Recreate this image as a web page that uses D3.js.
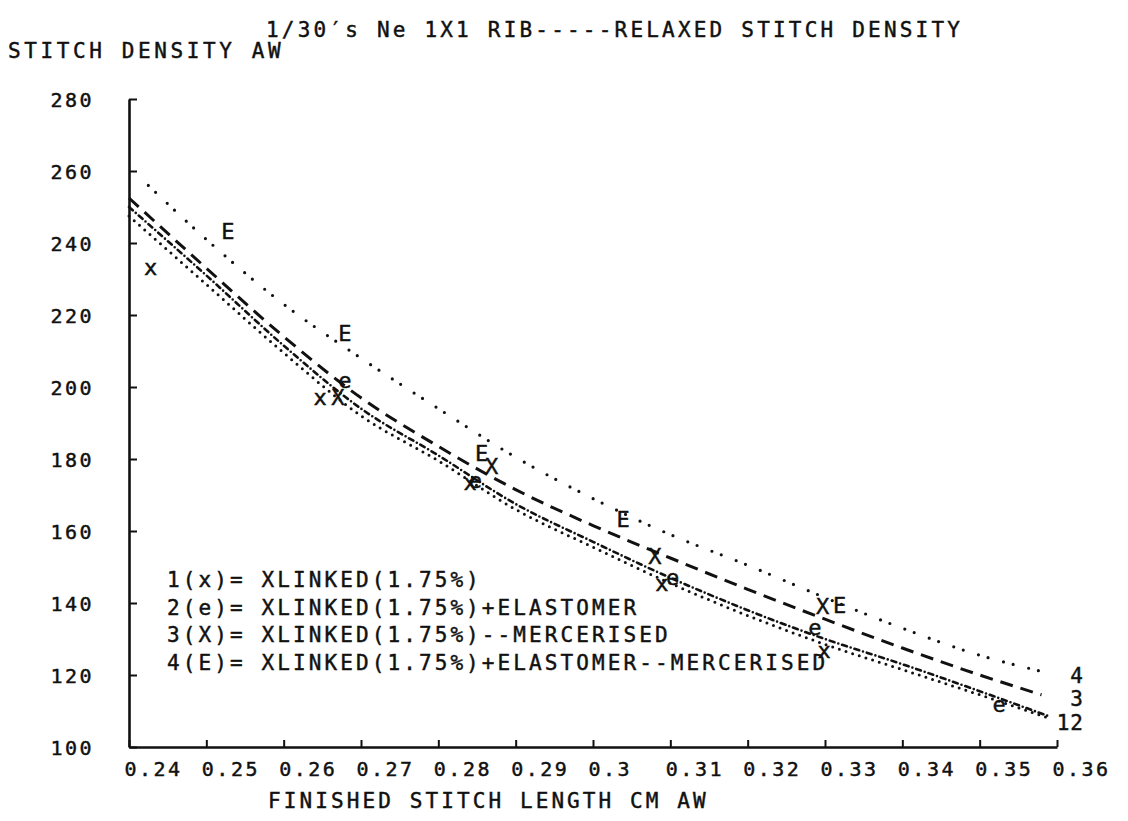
<!DOCTYPE html>
<html>
<head>
<meta charset="utf-8">
<script src="https://cdn.jsdelivr.net/npm/d3@7"></script>
<style>
  html, body { margin: 0; padding: 0; background: #fff; }
  svg text { font-family: "DejaVu Sans Mono", "Liberation Mono", monospace; fill: #111;
             stroke: #111; stroke-width: 0.45px; }
</style>
</head>
<body>
<svg id="chart" width="1128" height="821"></svg>
<script>
// Axis ticks
const xTicks = [0.24, 0.25, 0.26, 0.27, 0.28, 0.29, 0.30, 0.31, 0.32, 0.33, 0.34, 0.35, 0.36];
const xTickLabels = ["0.24", "0.25", "0.26", "0.27", "0.28", "0.29", "0.3", "0.31", "0.32", "0.33", "0.34", "0.35", "0.36"];
const yTicks = [100, 120, 140, 160, 180, 200, 220, 240, 260, 280];

// Fitted curves: stitch length (cm) and relaxed stitch density
const fitLength12 = [0.24, 0.25, 0.26, 0.27, 0.28, 0.29, 0.30, 0.31, 0.32, 0.33, 0.34, 0.35, 0.359];
const fitXlinked = [247.5, 228.5, 209.5, 192, 179.5, 166, 155.5, 145.5, 136.5, 128.5, 121.5, 114.5, 108];
const fitElastomer = [250, 231, 211.5, 194, 181, 167.5, 157, 147, 138, 130, 123, 115.5, 108.5];
const fitLength3 = [0.24, 0.25, 0.26, 0.27, 0.28, 0.29, 0.30, 0.31, 0.32, 0.33, 0.34, 0.35, 0.358];
const fitMercerised = [252.5, 233, 214, 197, 183.5, 171.5, 161.5, 152.5, 143.8, 135.5, 127.5, 120, 114.5];
const fitLength4 = [0.2425, 0.25, 0.26, 0.27, 0.28, 0.29, 0.30, 0.31, 0.32, 0.33, 0.34, 0.35, 0.358];
const fitElastMerc = [256, 241, 223, 208, 194, 180.5, 169, 159, 150.5, 141.5, 133, 125.5, 121];

// Measured points
const ptLenXlinked = [0.2428, 0.2647, 0.2841, 0.3089, 0.3299];
const ptDenXlinked = [233.3, 197.2, 173.5, 145.3, 126.9];
const ptLenElastomer = [0.2679, 0.2848, 0.3103, 0.3287, 0.3525];
const ptDenElastomer = [201.9, 174, 147, 133.3, 111.7];
const ptLenMercerised = [0.2670, 0.2869, 0.3080, 0.3297];
const ptDenMercerised = [197.2, 177.8, 152.8, 138.9];
const ptLenElastMerc = [0.2528, 0.2679, 0.2856, 0.3039, 0.3319];
const ptDenElastMerc = [243.1, 215, 181.4, 163.3, 139.4];

const legendLines = [
  "1(x)= XLINKED(1.75%)",
  "2(e)= XLINKED(1.75%)+ELASTOMER",
  "3(X)= XLINKED(1.75%)--MERCERISED",
  "4(E)= XLINKED(1.75%)+ELASTOMER--MERCERISED"
];
const endLabels = ["12", "3", "4"];

const svg = d3.select("#chart");
const x = d3.scaleLinear().domain([0.24, 0.36]).range([129, 1057]);
const y = d3.scaleLinear().domain([100, 280]).range([747, 99]);

const series = [
  { len: fitLength12, den: fitXlinked, pl: ptLenXlinked, pd: ptDenXlinked, mark: "x",
    dash: "0,7", width: 3, cap: "round" },
  { len: fitLength12, den: fitElastomer, pl: ptLenElastomer, pd: ptDenElastomer, mark: "e",
    dash: "5,4,0,4", width: 2.6, cap: "round" },
  { len: fitLength3, den: fitMercerised, pl: ptLenMercerised, pd: ptDenMercerised, mark: "X",
    dash: "13,8", width: 3, cap: "butt" },
  { len: fitLength4, den: fitElastMerc, pl: ptLenElastMerc, pd: ptDenElastMerc, mark: "E",
    dash: "0,10,0,16", width: 3.2, cap: "round" }
];

// Titles
svg.append("text").attr("x", 266).attr("y", 30).attr("dominant-baseline", "central")
  .style("font-size", "21px").style("letter-spacing", "3.2px")
  .text("1/30\u2032s Ne 1X1 RIB-----RELAXED STITCH DENSITY");
svg.append("text").attr("x", 8).attr("y", 51).attr("dominant-baseline", "central")
  .style("font-size", "21px").style("letter-spacing", "3.6px")
  .text("STITCH DENSITY AW");
svg.append("text").attr("x", 268).attr("y", 801).attr("dominant-baseline", "central")
  .style("font-size", "21px").style("letter-spacing", "3.1px")
  .text("FINISHED STITCH LENGTH CM AW");

// Axes
const xAxis = d3.axisBottom(x).tickValues(xTicks)
  .tickFormat((d, i) => xTickLabels[i]).tickSizeInner(-7).tickSizeOuter(0);
const gx = svg.append("g").attr("transform", `translate(0,${y(100)})`).call(xAxis);
gx.select(".domain").attr("stroke", "#111").attr("stroke-width", 2.6);
gx.selectAll(".tick line").attr("stroke", "#111").attr("stroke-width", 2);
gx.selectAll(".tick text").attr("text-anchor", "start").attr("x", -5).attr("y", 15)
  .attr("dy", "0.71em").style("font-size", "20px").style("letter-spacing", "2.5px")
  .attr("fill", "#111").style("font-family", "DejaVu Sans Mono, monospace");

const yAxis = d3.axisLeft(y).tickValues(yTicks).tickSizeInner(-8).tickSizeOuter(0);
const gy = svg.append("g").attr("transform", `translate(${x(0.24)},0)`).call(yAxis);
gy.select(".domain").attr("stroke", "#111").attr("stroke-width", 2.6);
gy.selectAll(".tick line").attr("stroke", "#111").attr("stroke-width", 2);
gy.selectAll(".tick text").attr("x", -35).attr("dy", "0.35em")
  .style("font-size", "20px").style("letter-spacing", "2.5px")
  .attr("fill", "#111").style("font-family", "DejaVu Sans Mono, monospace");

// Fitted curves
const line = d3.line().x(d => x(d[0])).y(d => y(d[1])).curve(d3.curveMonotoneX);
series.forEach(s => {
  svg.append("path")
    .datum(s.len.map((l, i) => [l, s.den[i]]))
    .attr("d", line)
    .attr("fill", "none")
    .attr("stroke", "#111")
    .attr("stroke-width", s.width)
    .attr("stroke-linecap", s.cap)
    .attr("stroke-dasharray", s.dash);
});

// Point markers drawn as plotter characters
series.forEach(s => {
  svg.append("g").selectAll("text")
    .data(s.pl.map((l, i) => [l, s.pd[i]]))
    .join("text")
    .attr("x", d => x(d[0]))
    .attr("y", d => y(d[1]))
    .attr("text-anchor", "middle")
    .attr("dominant-baseline", "central")
    .style("font-size", "22px")
    .text(s.mark);
});

// Curve end labels
const ends = [
  { s: series[0], label: endLabels[0], dy: 5 },
  { s: series[2], label: endLabels[1], dy: 4 },
  { s: series[3], label: endLabels[2], dy: 5 }
];
ends.forEach(e => {
  const n = e.s.den.length - 1;
  svg.append("text")
    .attr("x", x(0.36) + 27)
    .attr("y", y(e.s.den[n]) + e.dy)
    .attr("text-anchor", "end")
    .attr("dominant-baseline", "central")
    .style("font-size", "21px").style("letter-spacing", "1px")
    .text(e.label);
});

// Legend
svg.append("g").selectAll("text")
  .data(legendLines)
  .join("text")
  .attr("x", 167)
  .attr("y", (d, i) => 580 + i * 27.5)
  .attr("dominant-baseline", "central")
  .style("font-size", "21px").style("letter-spacing", "3.1px")
  .text(d => d);
</script>
</body>
</html>
